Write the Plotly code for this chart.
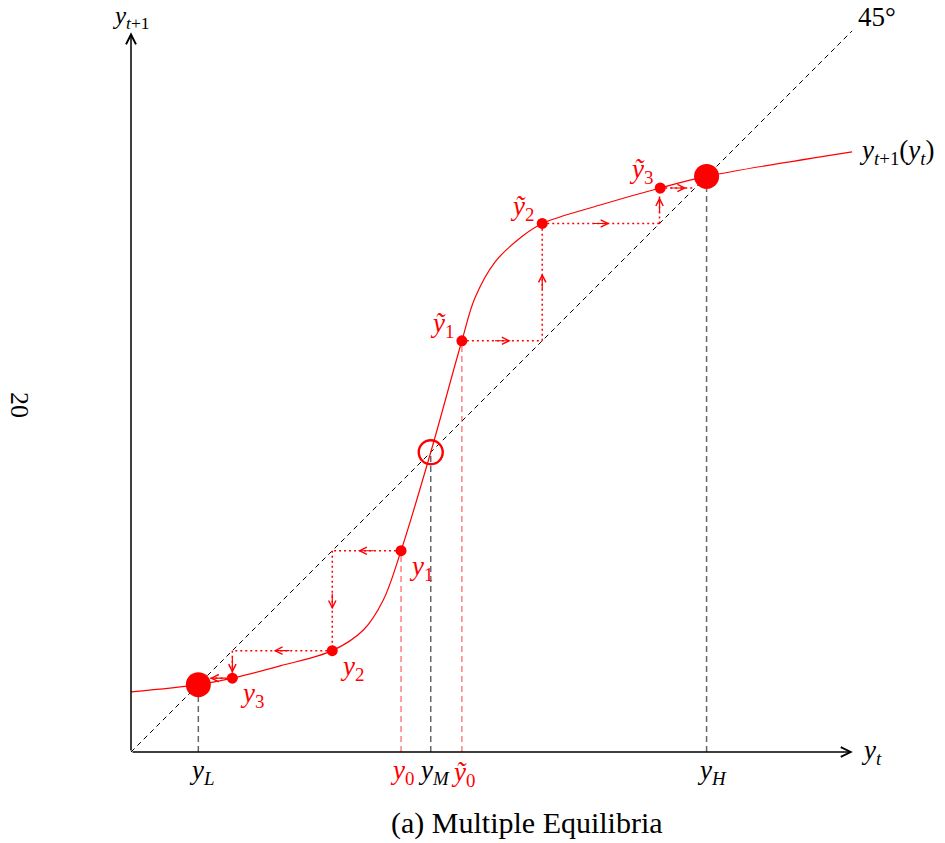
import plotly.graph_objects as go

# ---- data (axis units, 0..10) ----
curve_x = [0.0, 0.93, 1.40, 2.06, 2.78, 3.21, 3.485, 3.73, 4.14, 4.57, 4.75, 5.03, 5.40, 5.68, 6.48, 7.31, 7.95, 9.96]
curve_y = [0.83, 0.93, 1.02, 1.19, 1.40, 1.685, 2.10, 2.78, 4.14, 5.68, 6.27, 6.77, 7.12, 7.30, 7.555, 7.79, 7.95, 8.29]

y_L, y_M, y_H = 0.93, 4.14, 7.95
# downward path: y0 -> y1 -> y2 -> y3
low_x = [3.73, 2.78, 1.40]          # y0, y1, y2 (as arguments)
low_y = [2.78, 1.40, 1.02]          # y1, y2, y3 (values)
# upward path: ~y0 -> ~y1 -> ~y2 -> ~y3
up_x = [4.57, 5.68, 7.31]
up_y = [5.68, 7.30, 7.79]

axis_max_x, axis_max_y = 9.97, 9.94
diag_max = 9.96

RED = "#ff0000"
RED_LIGHT = "rgba(255,0,0,0.5)"
GREY = "rgba(0,0,0,0.6)"
FONT = "Liberation Serif"

W, H = 945, 843
ML, MR, MT, MB = 131, 90, 28, 91
PW, PH = W - ML - MR, H - MT - MB

fig = go.Figure()

# 45 degree line
fig.add_trace(go.Scatter(x=[0, diag_max], y=[0, diag_max], mode="lines",
                         line=dict(color="black", width=1, dash="5px,4px"),
                         hoverinfo="skip", showlegend=False))

# vertical drop lines
for xv, yv, col in [(y_L, y_L, GREY), (y_M, y_M, GREY), (y_H, y_H, GREY),
                    (low_x[0], low_y[0], RED_LIGHT), (up_x[0], up_y[0], RED_LIGHT)]:
    fig.add_trace(go.Scatter(x=[xv, xv], y=[0, yv], mode="lines",
                             line=dict(color=col, width=1.5, dash="6px,4px"),
                             hoverinfo="skip", showlegend=False))

# cobweb segments
segs = []
for xs, ys in [(low_x, low_y), (up_x, up_y)]:
    for i in range(len(xs)):
        segs.append(((xs[i], ys[i]), (ys[i], ys[i])))
        if i + 1 < len(xs):
            segs.append(((ys[i], ys[i]), (ys[i], ys[i + 1])))

sx, sy = [], []
for (a, b) in segs:
    sx += [a[0], b[0], None]
    sy += [a[1], b[1], None]
fig.add_trace(go.Scatter(x=sx, y=sy, mode="lines",
                         line=dict(color=RED, width=1.5, dash="2px,3px"),
                         hoverinfo="skip", showlegend=False))

# the map curve
fig.add_trace(go.Scatter(x=curve_x, y=curve_y, mode="lines",
                         line=dict(color=RED, width=1.2, shape="spline", smoothing=1.0),
                         hoverinfo="skip", showlegend=False))

# iterate dots
fig.add_trace(go.Scatter(x=low_x + up_x, y=low_y + up_y, mode="markers",
                         marker=dict(color=RED, size=11, line=dict(width=0)),
                         hoverinfo="skip", showlegend=False))

# stable equilibria
fig.add_trace(go.Scatter(x=[y_L, y_H], y=[y_L, y_H], mode="markers",
                         marker=dict(color=RED, size=25, line=dict(width=0)),
                         hoverinfo="skip", showlegend=False))
# unstable equilibrium
fig.add_trace(go.Scatter(x=[y_M], y=[y_M], mode="markers",
                         marker=dict(color="rgba(0,0,0,0)", size=24, line=dict(color=RED, width=2.4)),
                         hoverinfo="skip", showlegend=False))

ann = []
# axes with arrows
ann.append(dict(x=axis_max_x, y=0, ax=0, ay=0, xref="x", yref="y", axref="x", ayref="y",
                showarrow=True, arrowhead=5, arrowsize=1.3, arrowwidth=1.5, arrowcolor="black",
                text="", standoff=0))
ann.append(dict(x=0, y=axis_max_y, ax=0, ay=0, xref="x", yref="y", axref="x", ayref="y",
                showarrow=True, arrowhead=5, arrowsize=1.3, arrowwidth=1.5, arrowcolor="black",
                text="", standoff=0))

# direction arrows in the middle of each cobweb segment
half = 0.12
for (a, b) in segs:
    mx, my = (a[0] + b[0]) / 2, (a[1] + b[1]) / 2
    dx, dy = b[0] - a[0], b[1] - a[1]
    L = (dx ** 2 + dy ** 2) ** 0.5
    ux, uy = dx / L, dy / L
    ann.append(dict(x=mx + ux * half, y=my + uy * half, ax=mx - ux * half, ay=my - uy * half,
                    xref="x", yref="y", axref="x", ayref="y", showarrow=True,
                    arrowhead=5, arrowsize=1.2, arrowwidth=1.2, arrowcolor=RED,
                    text="", standoff=0))

def label(x, y, text, color="black", xs=0, ys=0, size=27, xanchor="center", yanchor="middle",
          xref="x", yref="y", textangle=0):
    ann.append(dict(x=x, y=y, xref=xref, yref=yref, text=text, showarrow=False,
                    font=dict(family=FONT, size=size, color=color),
                    xshift=xs, yshift=ys, xanchor=xanchor, yanchor=yanchor, textangle=textangle))

def pix(px, py):
    return (px - ML) / PW, (H - MB - py) / PH

# x-axis tick labels
label(y_L, 0, "<i>y</i><sub><i>L</i></sub>", xs=4, ys=-20)
label(low_x[0], 0, "<i>y</i><sub>0</sub>", color=RED, xs=1, ys=-20)
label(y_M, 0, "<i>y</i><sub><i>M</i></sub>", xs=3, ys=-20)
label(up_x[0], 0, "<i>ỹ</i><sub>0</sub>", color=RED, xs=1, ys=-22)
label(y_H, 0, "<i>y</i><sub><i>H</i></sub>", xs=5, ys=-20)

# iterate labels
label(low_x[0], low_y[0], "<i>y</i><sub>1</sub>", color=RED, xs=20, ys=-17)
label(low_x[1], low_y[1], "<i>y</i><sub>2</sub>", color=RED, xs=20, ys=-17)
label(low_x[2], low_y[2], "<i>y</i><sub>3</sub>", color=RED, xs=20, ys=-17)
label(up_x[0], up_y[0], "<i>ỹ</i><sub>1</sub>", color=RED, xs=-20, ys=16)
label(up_x[1], up_y[1], "<i>ỹ</i><sub>2</sub>", color=RED, xs=-20, ys=15)
label(up_x[2], up_y[2], "<i>ỹ</i><sub>3</sub>", color=RED, xs=-19, ys=17)

# axis names
label(axis_max_x, 0, "<i>y</i><sub><i>t</i></sub>", xs=6, xanchor="left")
label(0, axis_max_y, "<i>y</i><sub><i>t</i>+1</sub>", ys=15, size=25)
label(diag_max, diag_max, "45°", xs=4, ys=-3, xanchor="left", yanchor="bottom")
label(curve_x[-1], curve_y[-1], "<i>y</i><sub><i>t</i>+1</sub>(<i>y</i><sub><i>t</i></sub>)",
      xs=5, xanchor="left")

# page number and caption
px_, py_ = pix(20, 405)
label(px_, py_, "20", xref="paper", yref="paper", size=26, textangle=90)
px_, py_ = pix(527, 823)
label(px_, py_, "(a) Multiple Equilibria", xref="paper", yref="paper", size=30)

fig.update_layout(
    width=W, height=H,
    margin=dict(l=ML, r=MR, t=MT, b=MB, autoexpand=False),
    paper_bgcolor="white", plot_bgcolor="white",
    xaxis=dict(range=[0, 10], visible=False, fixedrange=True),
    yaxis=dict(range=[0, 10], visible=False, fixedrange=True),
    annotations=ann,
    showlegend=False,
)

fig.write_html("out.html", config={"displayModeBar": False},
               post_script="document.body.style.margin='0px';")
